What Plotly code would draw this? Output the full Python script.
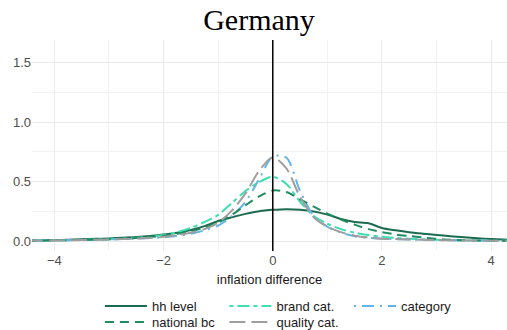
import plotly.graph_objects as go

# Density of the inflation difference, evaluated on a common grid
x_grid = [-4.5, -4.25, -4.0, -3.75, -3.5, -3.25, -3.0, -2.75, -2.5, -2.25,
          -2.0, -1.75, -1.5, -1.25, -1.0, -0.75, -0.5, -0.25, 0.0, 0.25,
          0.5, 0.75, 1.0, 1.25, 1.5, 1.75, 2.0, 2.25, 2.5, 2.75,
          3.0, 3.25, 3.5, 3.75, 4.0, 4.25, 4.5]

hh_level = [0.004, 0.005, 0.007, 0.010, 0.014, 0.018, 0.022, 0.027, 0.033, 0.042,
            0.055, 0.070, 0.092, 0.125, 0.168, 0.200, 0.228, 0.250, 0.262, 0.268,
            0.263, 0.248, 0.222, 0.185, 0.160, 0.150, 0.110, 0.090, 0.074, 0.062,
            0.051, 0.040, 0.031, 0.023, 0.017, 0.012, 0.010]

national_bc = [0.003, 0.004, 0.005, 0.007, 0.009, 0.012, 0.015, 0.020, 0.026, 0.034,
               0.045, 0.060, 0.082, 0.112, 0.155, 0.220, 0.300, 0.375, 0.425, 0.412,
               0.350, 0.290, 0.230, 0.180, 0.138, 0.100, 0.075, 0.055, 0.042, 0.030,
               0.018, 0.010, 0.006, 0.004, 0.003, 0.002, 0.002]

brand_cat = [0.003, 0.004, 0.005, 0.007, 0.009, 0.012, 0.015, 0.020, 0.027, 0.036,
             0.050, 0.075, 0.110, 0.160, 0.220, 0.320, 0.420, 0.495, 0.540, 0.480,
             0.330, 0.210, 0.145, 0.100, 0.070, 0.050, 0.036, 0.027, 0.020, 0.014,
             0.010, 0.007, 0.005, 0.004, 0.003, 0.002, 0.002]

quality_cat = [0.003, 0.004, 0.005, 0.006, 0.008, 0.010, 0.012, 0.016, 0.020, 0.026,
               0.035, 0.050, 0.070, 0.100, 0.155, 0.255, 0.400, 0.590, 0.705, 0.610,
               0.370, 0.200, 0.120, 0.075, 0.045, 0.030, 0.020, 0.016, 0.012, 0.010,
               0.008, 0.006, 0.005, 0.004, 0.003, 0.002, 0.002]

category = [0.004, 0.005, 0.006, 0.007, 0.009, 0.011, 0.013, 0.016, 0.020, 0.025,
            0.030, 0.044, 0.060, 0.090, 0.130, 0.210, 0.330, 0.520, 0.710, 0.700,
            0.420, 0.210, 0.120, 0.070, 0.040, 0.026, 0.020, 0.016, 0.012, 0.010,
            0.008, 0.006, 0.005, 0.004, 0.003, 0.002, 0.002]

x_ticks = [-4, -2, 0, 2, 4]
x_tick_text = ["\u22124", "\u22122", "0", "2", "4"]
y_ticks = [0.0, 0.5, 1.0, 1.5]
y_tick_text = ["0.0", "0.5", "1.0", "1.5"]

# (name, values, colour, dash, legend row)
series = [
    ("hh level", hh_level, "#1b6b4f", "solid", "legend"),
    ("brand cat.", brand_cat, "#3ddfae", "4px,4px,12px,4px", "legend"),
    ("category", category, "#62b3e8", "2px,6px,12px,6px", "legend"),
    ("national bc", national_bc, "#1f8c5f", "9px,6px", "legend2"),
    ("quality cat.", quality_cat, "#9e9e9e", "16px,6px", "legend2"),
]

fig = go.Figure()
for name, vals, color, dash, leg in series:
    fig.add_trace(go.Scatter(
        x=x_grid, y=vals, name=name, mode="lines", legend=leg,
        line=dict(color=color, width=2, dash=dash, shape="spline", smoothing=0.8),
    ))

# vertical reference line at zero difference
fig.add_shape(type="line", xref="x", yref="paper", x0=0, x1=0, y0=0, y1=1,
              line=dict(color="black", width=1.5), layer="above")

grid_major = "#ebebeb"
legend_style = dict(orientation="h", xref="paper", x=0.143, xanchor="left",
                    yref="container", yanchor="middle",
                    entrywidth=67.5, entrywidthmode="pixels", itemwidth=42,
                    font=dict(size=13, color="#1a1a1a"), bgcolor="rgba(0,0,0,0)")

fig.update_layout(
    width=507, height=330,
    margin=dict(l=32, r=0, t=40, b=79),
    paper_bgcolor="white", plot_bgcolor="white",
    font=dict(family="Liberation Sans, Arial, sans-serif", size=13, color="#1a1a1a"),
    title=dict(text="Germany", x=259 / 507, xref="container", xanchor="center",
               y=1 - 19 / 330, yref="container", yanchor="middle",
               font=dict(family="Liberation Serif, Times New Roman, serif", size=30, color="black")),
    xaxis=dict(range=[-4.41, 4.29], tickvals=x_ticks, ticktext=x_tick_text,
               showgrid=True, gridcolor=grid_major, gridwidth=1,
               minor=dict(tickvals=[-3, -1, 1, 3], showgrid=True, gridcolor="#f2f2f2", gridwidth=1),
               zeroline=False, showline=False, ticks="",
               tickfont=dict(size=13, color="#4d4d4d"),
               title=dict(text="inflation difference", font=dict(size=13, color="#1a1a1a"), standoff=7)),
    yaxis=dict(range=[-0.084, 1.69], tickvals=y_ticks, ticktext=y_tick_text,
               showgrid=True, gridcolor=grid_major, gridwidth=1,
               minor=dict(tickvals=[0.25, 0.75, 1.25], showgrid=True, gridcolor="#f2f2f2", gridwidth=1),
               zeroline=False, showline=False, ticks="",
               tickfont=dict(size=13, color="#4d4d4d")),
    legend=dict(legend_style, y=1 - 306 / 330),
    legend2=dict(legend_style, y=1 - 322 / 330),
    showlegend=True,
)

fig.write_html("out.html")
